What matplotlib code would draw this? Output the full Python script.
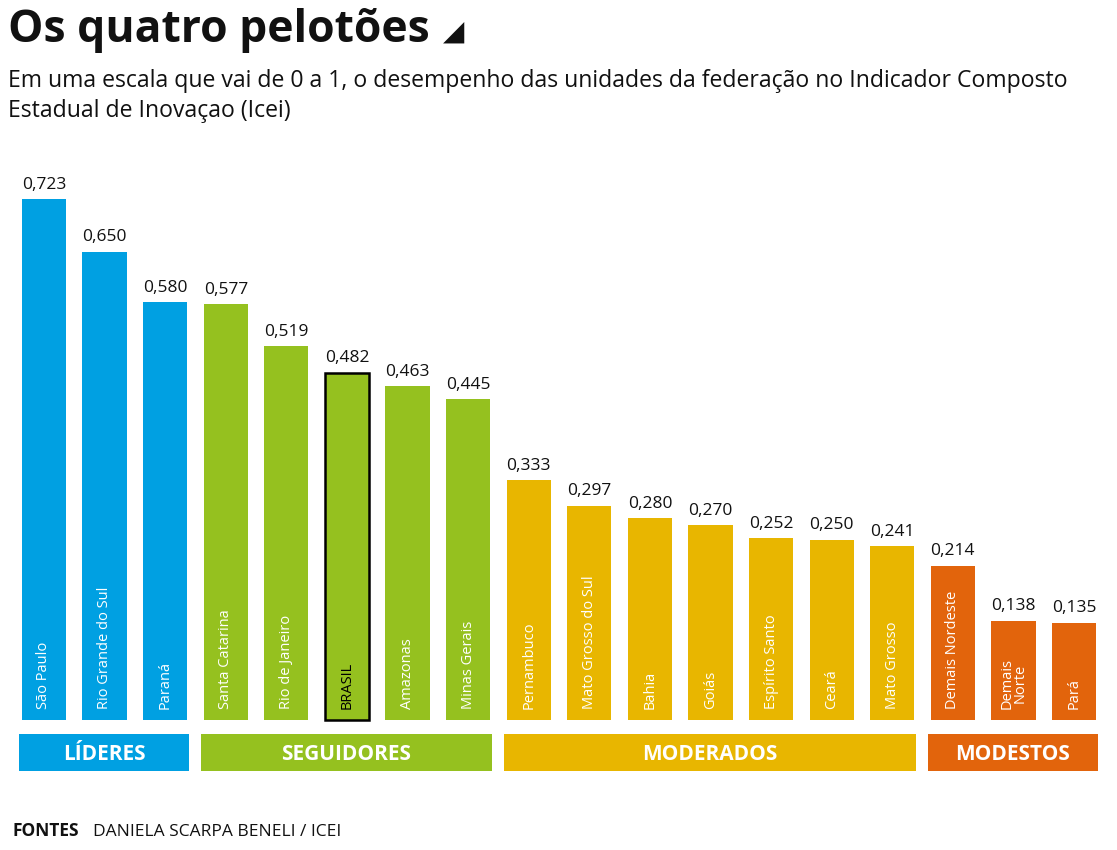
import numpy as np
import matplotlib.pyplot as plt

plt.rcParams['font.family'] = ['Open Sans', 'DejaVu Sans']

# data
states = ["São Paulo", "Rio Grande do Sul", "Paraná", "Santa Catarina", "Rio de Janeiro",
          "BRASIL", "Amazonas", "Minas Gerais", "Pernambuco", "Mato Grosso do Sul", "Bahia",
          "Goiás", "Espírito Santo", "Ceará", "Mato Grosso", "Demais Nordeste",
          "Demais\nNorte", "Pará"]
values = [0.723, 0.650, 0.580, 0.577, 0.519, 0.482, 0.463, 0.445, 0.333, 0.297, 0.280,
          0.270, 0.252, 0.250, 0.241, 0.214, 0.138, 0.135]
group_of = [0, 0, 0, 1, 1, 1, 1, 1, 2, 2, 2, 2, 2, 2, 2, 3, 3, 3]
group_names = ["LÍDERES", "SEGUIDORES", "MODERADOS", "MODESTOS"]
group_colors = ["#00A0E2", "#95C11F", "#E8B600", "#E2640C"]

W, H = 1117, 850
fig = plt.figure(figsize=(W / 100, H / 100), dpi=100)

# axes placed in pixel terms: x from 13.7 to 1104.3, y from 158 to 792 (top-down)
ymin, ymax = -0.1, 0.78
px_per_unit = 720.6
top_px = 720 - ymax * px_per_unit
bot_px = 720 - ymin * px_per_unit
ax = fig.add_axes([13.7 / W, 1 - bot_px / H, (1104.3 - 13.7) / W, (bot_px - top_px) / H])
ax.set_xlim(-0.5, len(states) - 0.5)
ax.set_ylim(ymin, ymax)
ax.axis('off')

x = np.arange(len(states))
bw = 0.73
colors = [group_colors[g] for g in group_of]
bars = ax.bar(x, values, width=bw, color=colors, zorder=2)
bars[5].set_edgecolor('black')
bars[5].set_linewidth(1.8)

for i, (name, v) in enumerate(zip(states, values)):
    ax.text(i, v + 0.009, f"{v:.3f}".replace('.', ','), ha='center', va='bottom',
            fontsize=12.5, color='#111111')
    tc = 'black' if name == "BRASIL" else 'white'
    ax.text(i, 0.015, name, rotation=90, ha='center', va='bottom', fontsize=10.5,
            color=tc, linespacing=0.85)

# group bands under the bars
for g, (gname, gc) in enumerate(zip(group_names, group_colors)):
    idx = [i for i in range(len(states)) if group_of[i] == g]
    left = min(idx) - bw / 2 - 0.05
    right = max(idx) + bw / 2 + 0.03
    ax.fill_between([left, right], -0.0194, -0.0708, color=gc, linewidth=0)
    ax.text((left + right) / 2, -0.0451, gname, ha='center', va='center_baseline',
            fontsize=15, fontweight='bold', color='white')

fig.text(8 / W, 1 - 42 / H, "Os quatro pelotões", fontsize=32, fontweight='bold',
         va='baseline', ha='left', color='#111111')
fig.text(443 / W, 1 - 40 / H, "◢", fontsize=20, va='baseline', ha='left',
         color='#111111')
fig.text(8 / W, 1 - 87 / H,
         "Em uma escala que vai de 0 a 1, o desempenho das unidades da federação no Indicador Composto",
         fontsize=16.6, va='baseline', ha='left', color='#111111')
fig.text(8 / W, 1 - 117 / H, "Estadual de Inovaçao (Icei)",
         fontsize=16.6, va='baseline', ha='left', color='#111111')

fig.text(12 / W, 1 - 836 / H, "FONTES", fontsize=12.5, fontweight='bold',
         va='baseline', ha='left', color='#111111')
fig.text(93 / W, 1 - 836 / H, "DANIELA SCARPA BENELI / ICEI", fontsize=12.5,
         va='baseline', ha='left', color='#111111')

fig.savefig("out.png", dpi=100, facecolor='white')
